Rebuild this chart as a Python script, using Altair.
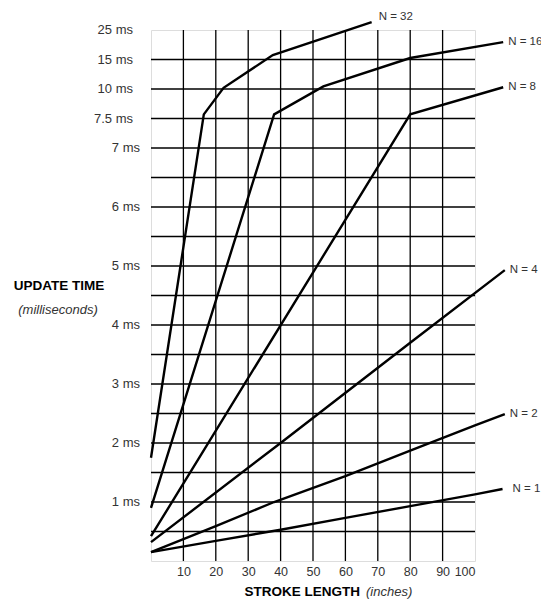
import altair as alt
import pandas as pd

# ---- data ----
series_names = ["N = 32", "N = 16", "N = 8", "N = 4", "N = 2", "N = 1"]
x_n32 = [0, 16.3, 22.4, 37.6, 68.1]
y_n32 = [1.75, 7.85, 10.2, 16.5, 27.7]
x_n16 = [0, 38, 53.2, 80, 108.7]
y_n16 = [0.9, 7.85, 10.45, 15.5, 20.9]
x_n8 = [0, 80, 108.7]
y_n8 = [0.42, 7.85, 10.3]
x_n4 = [0, 40, 80, 109.2]
y_n4 = [0.32, 2.0, 3.7, 4.93]
x_n2 = [0, 20, 38, 60, 80, 100, 109.2]
y_n2 = [0.15, 0.59, 1.0, 1.44, 1.87, 2.3, 2.49]
x_n1 = [0, 20, 40, 60, 80, 100, 108.5]
y_n1 = [0.15, 0.34, 0.53, 0.73, 0.93, 1.13, 1.22]

x_ticks = [10, 20, 30, 40, 50, 60, 70, 80, 90, 100]
x_grid = [10, 20, 30, 40, 50, 60, 70, 80, 90]
y_grid = [0.5, 1, 1.5, 2, 2.5, 3, 3.5, 4, 4.5, 5, 5.5, 6, 6.5, 7, 7.5, 10, 15]
y_low_ticks = [1, 2, 3, 4, 5, 6, 7]
y_low_labels = ["1 ms", "2 ms", "3 ms", "4 ms", "5 ms", "6 ms", "7 ms"]
y_top_ticks = [7.5, 10, 15, 25]
y_top_labels = ["7.5 ms", "10 ms", "15 ms", "25 ms"]

xs = [x_n32, x_n16, x_n8, x_n4, x_n2, x_n1]
ys = [y_n32, y_n16, y_n8, y_n4, y_n2, y_n1]

rows = []
for name, xv, yv in zip(series_names, xs, ys):
    for a, b in zip(xv, yv):
        rows.append({"series": name, "x": a, "ms": b})
df = pd.DataFrame(rows)

FONT = "Liberation Sans"
FS = 13
W, H = 324, 531
G = H / 18.0  # one grid step in pixels

xscale = alt.Scale(domain=[0, 100], nice=False, zero=False)
yscale = alt.Scale(domain=[0, 7.5, 10, 15, 25],
                   range=[H, H - 15 * G, H - 16 * G, H - 17 * G, 0],
                   nice=False, zero=False)

xaxis = alt.Axis(values=x_ticks, tickCount=len(x_ticks) + 2, grid=False,
                 domain=False, ticks=False, tickSize=0,
                 labelPadding=4, labelFont=FONT, labelFontSize=12.5,
                 labelOverlap=False, labelColor="#333", title=None)

# grid
xg = alt.Chart(pd.DataFrame({"x": x_grid})).mark_rule(color="black", strokeWidth=1.3).encode(
    x=alt.X("x:Q", scale=xscale, axis=xaxis))
yg = alt.Chart(pd.DataFrame({"ms": y_grid})).mark_rule(color="black", strokeWidth=1.3).encode(
    y=alt.Y("ms:Q", scale=yscale, axis=None))

lines = alt.Chart(df).mark_line(color="black", strokeWidth=2.4, clip=False).encode(
    x=alt.X("x:Q", scale=xscale, axis=xaxis),
    y=alt.Y("ms:Q", scale=yscale, axis=None),
    detail="series:N",
)

layers = [xg, yg, lines]

# series labels at the line ends
offsets = {"N = 32": (7, -5), "N = 16": (5, 0), "N = 8": (5, 0),
           "N = 4": (5, 0), "N = 2": (5, 0), "N = 1": (10, 0)}
for name, xv, yv in zip(series_names, xs, ys):
    ldf = pd.DataFrame({"x": [xv[-1]], "ms": [yv[-1]], "label": [name]})
    dx, dy = offsets[name]
    layers.append(
        alt.Chart(ldf).mark_text(align="left", baseline="middle", dx=dx, dy=dy,
                                 font=FONT, fontSize=11.5, color="#333").encode(
            x=alt.X("x:Q", scale=xscale),
            y=alt.Y("ms:Q", scale=yscale),
            text="label:N",
        )
    )

# y tick labels (two groups, the upper ones sit a little further out)
for vals, labs, xoff in [(y_low_ticks, y_low_labels, -11), (y_top_ticks, y_top_labels, -18)]:
    tdf = pd.DataFrame({"ms": vals, "label": labs})
    layers.append(
        alt.Chart(tdf).mark_text(align="right", baseline="middle", font=FONT,
                                 fontSize=FS, color="#333").encode(
            x=alt.value(xoff),
            y=alt.Y("ms:Q", scale=yscale),
            text="label:N",
        )
    )

# axis titles
def note(txt, px, py, align, bold=False, italic=False):
    d = pd.DataFrame({"t": [txt]})
    return alt.Chart(d).mark_text(
        align=align, baseline="middle", font=FONT, fontSize=13.5 if bold else 13,
        fontWeight="bold" if bold else "normal",
        fontStyle="italic" if italic else "normal",
        color="black" if bold else "#333",
    ).encode(x=alt.value(px), y=alt.value(py), text="t:N")

layers.append(note("UPDATE TIME", -92, 256, "center", bold=True))
layers.append(note("(milliseconds)", -93, 280, "center", italic=True))
layers.append(note("STROKE LENGTH", 209, H + 31, "right", bold=True))
layers.append(note("(inches)", 215, H + 31, "left", italic=True))

chart = alt.layer(*layers).properties(
    width=W, height=H,
    autosize=alt.AutoSizeParams(type="none"),
    padding={"left": 143, "top": 22, "right": 66, "bottom": 39},
).configure_view(stroke="black", strokeWidth=2.5).configure(background="white")

chart.save("out.html", embed_options={"renderer": "svg", "actions": False})
